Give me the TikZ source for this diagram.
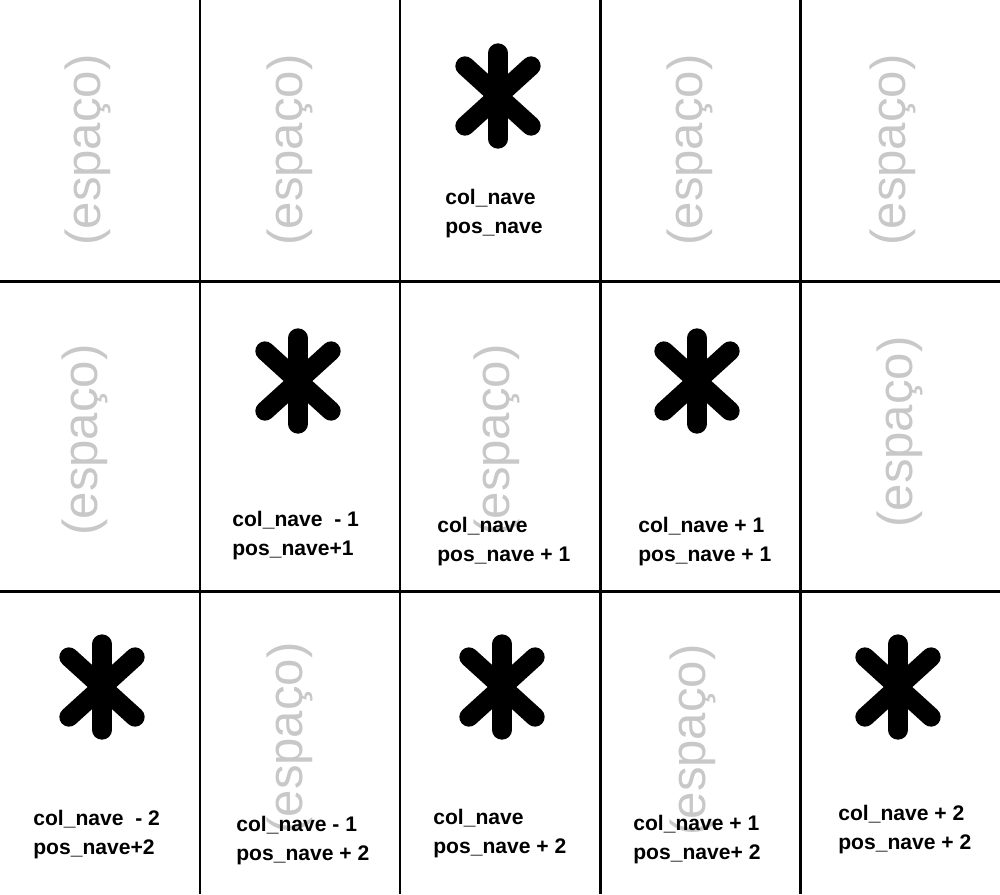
\documentclass[tikz,border=0pt]{standalone}
\usepackage{fontspec}
\setmainfont{Liberation Sans}
\usetikzlibrary{positioning}
\definecolor{espaco}{HTML}{C8C8C8}

\tikzset{
  rotulo/.style={align=left, anchor=west, inner sep=0pt, font=\fontsize{12}{16.5}\selectfont\bfseries},
  vazio/.style={rotate=90, inner sep=0pt, text=espaco, font=\fontsize{28}{30}\selectfont},
  grade/.style={line width=1.7pt},
  estrela/.style={line width=11pt, line cap=round},
}

\begin{document}
\begin{tikzpicture}[x=0.02cm, y=-0.02cm]
  \useasboundingbox (0,0) rectangle (1000,894);

  \node[vazio] (e00) at (88,150) {(espaço)};
  \node[vazio] (e01) at (290,150) {(espaço)};
  \node[vazio] (e03) at (690,150) {(espaço)};
  \node[vazio] (e04) at (893,150) {(espaço)};
  \node[vazio] (e10) at (85,440) {(espaço)};
  \node[vazio] (e12) at (497,440) {(espaço)};
  \node[vazio] (e14) at (900,432) {(espaço)};
  \node[vazio] (e21) at (290,738) {(espaço)};
  \node[vazio] (e23) at (693,740) {(espaço)};

  \foreach \gx in {200,400,600,800}
    \draw[grade] (\gx,0) -- (\gx,894);
  \foreach \gy in {281,591}
    \draw[grade] (0,\gy) -- (1000,\gy);

  \foreach \ax/\ay in {498/96, 298/381, 697/381, 102/687, 502/687, 898/687} {
    \draw[estrela] (\ax,\ay-43) -- (\ax,\ay+43);
    \draw[estrela] (\ax-33,\ay-30) -- (\ax+33,\ay+30);
    \draw[estrela] (\ax-33,\ay+30) -- (\ax+33,\ay-30);
  }

  \node[rotulo] (n02) at (445,214) {col\_nave\\pos\_nave};
  \node[rotulo] (n11) at (232,536) {col\_nave\ \ - 1\\pos\_nave+1};
  \node[rotulo] (n12) at (437,542) {col\_nave\\pos\_nave + 1};
  \node[rotulo] (n13) at (638,542) {col\_nave + 1\\pos\_nave + 1};
  \node[rotulo] (n20) at (33,835) {col\_nave\ \ - 2\\pos\_nave+2};
  \node[rotulo] (n21) at (236,841) {col\_nave - 1\\pos\_nave + 2};
  \node[rotulo] (n22) at (433,834) {col\_nave\\pos\_nave + 2};
  \node[rotulo] (n23) at (633,840) {col\_nave + 1\\pos\_nave+ 2};
  \node[rotulo] (n24) at (838,830) {col\_nave + 2\\pos\_nave + 2};
\end{tikzpicture}
\end{document}
